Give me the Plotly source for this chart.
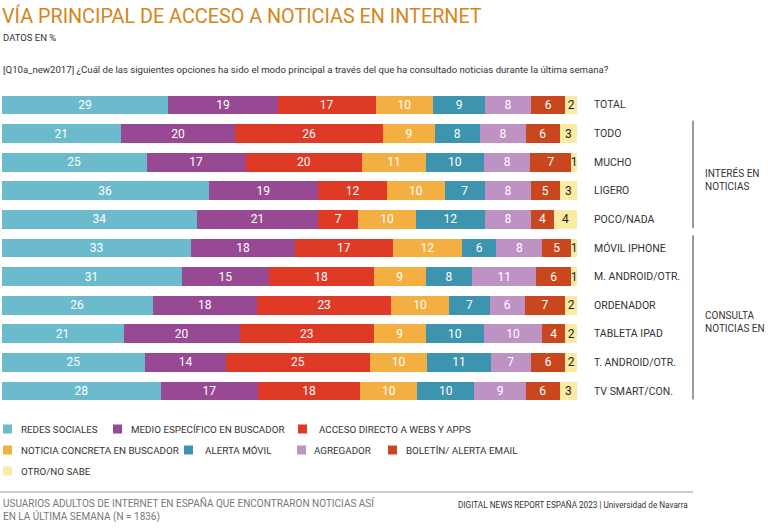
import plotly.graph_objects as go

W, H = 768, 531

categories = ["TOTAL", "TODO", "MUCHO", "LIGERO", "POCO/NADA", "MÓVIL IPHONE",
              "M. ANDROID/OTR.", "ORDENADOR", "TABLETA IPAD", "T. ANDROID/OTR.", "TV SMART/CON."]

series_names = ["REDES SOCIALES", "MEDIO ESPECÍFICO EN BUSCADOR", "ACCESO DIRECTO A WEBS Y APPS",
                "NOTICIA CONCRETA EN BUSCADOR", "ALERTA MÓVIL", "AGREGADOR",
                "BOLETÍN/ ALERTA EMAIL", "OTRO/NO SABE"]

redes = [29, 21, 25, 36, 34, 33, 31, 26, 21, 25, 28]
medio_buscador = [19, 20, 17, 19, 21, 18, 15, 18, 20, 14, 17]
acceso_directo = [17, 26, 20, 12, 7, 17, 18, 23, 23, 25, 18]
noticia_buscador = [10, 9, 11, 10, 10, 12, 9, 10, 9, 10, 10]
alerta_movil = [9, 8, 10, 7, 12, 6, 8, 7, 10, 11, 10]
agregador = [8, 8, 8, 8, 8, 8, 11, 6, 10, 7, 9]
boletin = [6, 6, 7, 5, 4, 5, 6, 7, 4, 6, 6]
otro = [2, 3, 1, 3, 4, 1, 1, 2, 2, 2, 3]

series_values = [redes, medio_buscador, acceso_directo, noticia_buscador,
                 alerta_movil, agregador, boletin, otro]
colors = ["#6BBBCD", "#974A93", "#DE3A26", "#F4AF43", "#3D94AE", "#BF92C4", "#C8471F", "#FBEBA2"]
text_colors = ["white"] * 7 + ["#222222"]

groups = [("INTERÉS EN<br>NOTICIAS", 1, 4), ("CONSULTA<br>NOTICIAS EN", 5, 10)]

FONT = "Roboto, sans-serif"

def px(x):
    return x / W

def py(y):
    return 1 - y / H

fig = go.Figure()
for name, vals, col, tcol in zip(series_names, series_values, colors, text_colors):
    fig.add_trace(go.Bar(
        y=categories, x=vals, name=name, orientation="h",
        marker=dict(color=col, line=dict(width=0)),
        text=vals, texttemplate="%{text}", textposition="inside", textangle=0,
        insidetextanchor="middle", constraintext="none",
        textfont=dict(color=tcol, size=12, family="Roboto, sans-serif"),
        hoverinfo="skip", showlegend=False,
    ))

row_top, row_bot = 90.7, 405.3
fig.update_layout(
    width=W, height=H, margin=dict(l=0, r=0, t=0, b=0),
    paper_bgcolor="white", plot_bgcolor="white",
    barmode="stack", barnorm="percent", bargap=0.34,
    uniformtext=dict(minsize=12, mode="show"),
    font=dict(family=FONT, color="#333333"),
    xaxis=dict(domain=[px(1.5), px(577)], range=[0, 100], visible=False, fixedrange=True),
    yaxis=dict(domain=[py(row_bot), py(row_top)], autorange="reversed",
               visible=False, categoryorder="array", categoryarray=categories),
)

ann = []
shapes = []
ann.append(dict(x=px(0), y=py(16), xref="paper", yref="paper", xanchor="left", yanchor="middle",
                text="VÍA PRINCIPAL DE ACCESO A NOTICIAS EN INTERNET", showarrow=False,
                font=dict(size=19.8, color="#D4861A", family=FONT)))
ann.append(dict(x=px(1), y=py(38), xref="paper", yref="paper", xanchor="left", yanchor="middle",
                text="DATOS EN %", showarrow=False, font=dict(size=9.5, color="#333333", family=FONT)))
ann.append(dict(x=px(1), y=py(69), xref="paper", yref="paper", xanchor="left", yanchor="middle",
                text="[Q10a_new2017] ¿Cuál de las siguientes opciones ha sido el modo principal a través del que ha consultado noticias durante la última semana?",
                showarrow=False, font=dict(size=9.6, color="#333333", family=FONT)))

for c in categories:
    ann.append(dict(x=px(592), y=c, xref="paper", yref="y", xanchor="left", yanchor="middle",
                    text=c, showarrow=False, font=dict(size=10.5, color="#333333", family=FONT)))

for label, i0, i1 in groups:
    shapes.append(dict(type="line", xref="paper", yref="y", x0=px(693), x1=px(693),
                       y0=i0 - 0.45, y1=i1 + 0.3, line=dict(color="#555555", width=1.2)))
    ann.append(dict(x=px(703), y=(i0 + i1) / 2 + 0.1, xref="paper", yref="y", xanchor="left",
                    yanchor="middle", align="left", text=label, showarrow=False,
                    font=dict(size=10, color="#333333", family=FONT)))

legend_pos = [(3, 429), (113, 429), (298, 429), (3, 450), (184, 450), (297, 450), (388, 450), (3, 471)]
text_off = [16, 16, 19, 16, 19, 15, 16, 16]
for (lx, ly), off, name, col in zip(legend_pos, text_off, series_names, colors):
    shapes.append(dict(type="rect", xref="paper", yref="paper", x0=px(lx), x1=px(lx + 9),
                       y0=py(ly + 4.5), y1=py(ly - 4.5), fillcolor=col, line=dict(width=0)))
    ann.append(dict(x=px(lx + off), y=py(ly), xref="paper", yref="paper", xanchor="left",
                    yanchor="middle", text=name, showarrow=False,
                    font=dict(size=9.8, color="#333333", family=FONT)))

shapes.append(dict(type="line", xref="paper", yref="paper", x0=0, x1=px(693), y0=py(492), y1=py(492),
                   line=dict(color="#999999", width=1.2)))
ann.append(dict(x=px(1), y=py(510), xref="paper", yref="paper", xanchor="left", yanchor="middle",
                align="left",
                text="USUARIOS ADULTOS DE INTERNET EN ESPAÑA QUE ENCONTRARON NOTICIAS ASÍ<br>EN LA ÚLTIMA SEMANA (N = 1836)",
                showarrow=False, font=dict(size=10, color="#777777", family=FONT)))
ann.append(dict(x=px(690), y=py(505), xref="paper", yref="paper", xanchor="right", yanchor="middle",
                text="DIGITAL NEWS REPORT ESPAÑA 2023 | Universidad de Navarra",
                showarrow=False, font=dict(size=8.2, color="#333333", family=FONT)))

fig.update_layout(annotations=ann, shapes=shapes)
fig.write_html("out.html")
